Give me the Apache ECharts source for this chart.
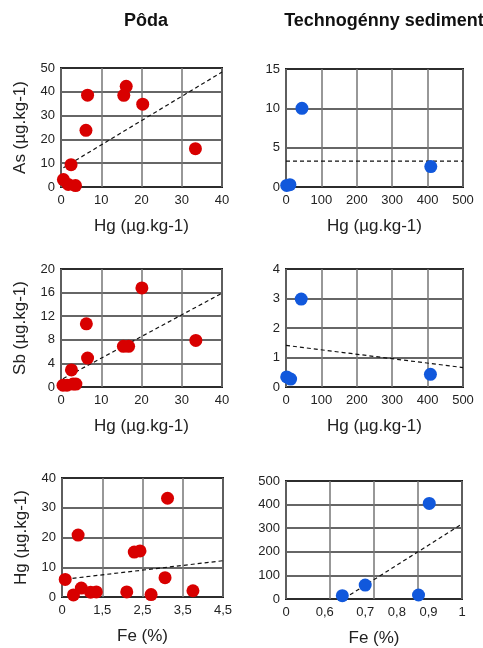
<!DOCTYPE html>
<html><head><meta charset="utf-8">
<script src="https://cdn.jsdelivr.net/npm/echarts@6/dist/echarts.min.js"></script>
<style>html,body{margin:0;padding:0;background:#fff}#c{width:483px;height:648px}</style>
</head><body><div id="c"></div>
<script>
// ---- data ----
const columnTitles = ['Pôda', 'Technogénny sediment'];
const axisNames = { hg: 'Hg (µg.kg-1)', as: 'As (µg.kg-1)', sb: 'Sb (µg.kg-1)', fe: 'Fe (%)' };

// Soil: As vs Hg
const soilAsHg = [[0.6,3.1],[1.8,1.1],[3.6,0.6],[2.5,9.4],[6.6,38.6],[6.2,23.8],[15.6,38.5],[16.2,42.3],[20.3,34.8],[33.4,16.1]];
const soilAsHgTrend = [[0.6,8.1],[40,48.3]];
// Sediment: As vs Hg
const sedAsHg = [[2,0.2],[11,0.3],[45,10],[409,2.6]];
const sedAsHgTrend = [[0,3.3],[500,3.3]];
// Soil: Sb vs Hg
const soilSbHg = [[0.5,0.3],[1.5,0.3],[3.0,0.5],[3.7,0.5],[2.6,2.9],[6.6,4.9],[6.3,10.7],[15.5,6.9],[16.8,6.9],[20.1,16.8],[33.5,7.9]];
const soilSbHgTrend = [[0.5,1.4],[40,15.9]];
// Sediment: Sb vs Hg
const sedSbHg = [[2,0.34],[13,0.27],[43,2.98],[408,0.43]];
const sedSbHgTrend = [[0,1.41],[500,0.66]];
// Soil: Hg vs Fe (axis units)
const soilHgFe = [[0.09,5.9],[0.32,0.7],[0.45,20.8],[0.54,3.0],[0.80,1.6],[0.96,1.7],[1.81,1.7],[2.02,15.1],[2.18,15.5],[2.49,0.8],[2.88,6.5],[2.95,33.2],[3.66,2.1]];
const soilHgFeTrend = [[0.1,6.0],[4.5,12.2]];
const soilFeTickLabels = ['0','1,5','2,5','3,5','4,5'];
// Sediment: Hg vs Fe (axis units)
const sedHgFe = [[0.32,14],[0.45,59],[0.753,17],[0.814,405]];
const sedHgFeTrend = [[0.33,2],[1,318]];
const sedFeTickLabels = ['0','0,6','0,7','0,8','0,9','1'];
const sedFeTickValues = [0,0.22,0.45,0.63,0.81,1];

// ---- chart ----
const RED = '#d80000', BLUE = '#1158dc';
const FONT = '"Liberation Sans", Arial, sans-serif';
const grids = [
  {left:61, top:68, width:161, height:119},
  {left:286, top:69, width:177, height:118},
  {left:61, top:269, width:161, height:118},
  {left:286, top:269, width:177, height:118},
  {left:62, top:478, width:161, height:119},
  {left:286, top:481, width:176, height:118}
].map(g => Object.assign(g, {show:true, borderColor:'#1a1a1a', borderWidth:2, backgroundColor:'#fff'}));

const labelStyle = {color:'#222', fontSize:13, fontFamily:FONT, showMinLabel:true, showMaxLabel:true};
function xAx(i, min, max, interval, extraLabel) {
  return {
    type:'value', gridIndex:i, min, max, interval,
    name: i >= 4 ? axisNames.fe : axisNames.hg, nameLocation:'middle', nameGap: 31,
    nameTextStyle:{fontSize:17, color:'#222', fontFamily:FONT},
    axisLine:{show:false}, axisTick:{show:false},
    splitLine:{show:true, lineStyle:{color:'#767676', width:1.5}},
    axisLabel:Object.assign({margin:7}, labelStyle, extraLabel || {})
  };
}
function yAx(i, min, max, interval, name) {
  return {
    type:'value', gridIndex:i, min, max, interval,
    name: name || '', nameLocation:'middle', nameGap:32, nameRotate:90,
    nameTextStyle:{fontSize:17, color:'#222', fontFamily:FONT},
    axisLine:{show:false}, axisTick:{show:false},
    splitLine:{show:true, lineStyle:{color:'#333', width:1.6}},
    axisLabel:Object.assign({margin:6}, labelStyle)
  };
}

const xAxis = [
  xAx(0, 0, 40, 10),
  xAx(1, 0, 500, 100),
  xAx(2, 0, 40, 10),
  xAx(3, 0, 500, 100),
  xAx(4, 0, 4.5, 1.125, {formatter: v => soilFeTickLabels[Math.round(v/1.125)] ?? ''}),
  xAx(5, 0, 1, 0.25, {customValues: sedFeTickValues, formatter: v => sedFeTickLabels[sedFeTickValues.indexOf(v)] ?? ''})
];
const yAxis = [
  yAx(0, 0, 50, 10, axisNames.as),
  yAx(1, 0, 15, 5),
  yAx(2, 0, 20, 4, axisNames.sb),
  yAx(3, 0, 4, 1),
  yAx(4, 0, 40, 10, axisNames.hg),
  yAx(5, 0, 500, 100)
];

const pts = [soilAsHg, sedAsHg, soilSbHg, sedSbHg, soilHgFe, sedHgFe];
const trends = [soilAsHgTrend, sedAsHgTrend, soilSbHgTrend, sedSbHgTrend, soilHgFeTrend, sedHgFeTrend];
const series = [];
pts.forEach((d, i) => {
  series.push({
    type:'line', xAxisIndex:i, yAxisIndex:i, data:trends[i], symbol:'none', silent:true, z:2,
    lineStyle:{color:'#111', width:1.2, type:[4,3]}
  });
  series.push({
    type:'scatter', xAxisIndex:i, yAxisIndex:i, data:d, symbolSize:13, z:3,
    itemStyle:{color: i % 2 === 0 ? RED : BLUE, opacity:1}
  });
});

const chart = echarts.init(document.getElementById('c'), null, {renderer:'canvas'});
chart.setOption({
  animation:false,
  backgroundColor:'#fff',
  title: [
    {text:columnTitles[0], left:141, top:7, textAlign:'center', textStyle:{fontSize:18, fontWeight:'bold', color:'#111', fontFamily:FONT}},
    {text:columnTitles[1], left:379, top:7, textAlign:'center', textStyle:{fontSize:18, fontWeight:'bold', color:'#111', fontFamily:FONT}}
  ],
  grid: grids, xAxis, yAxis, series
});
</script></body></html>
